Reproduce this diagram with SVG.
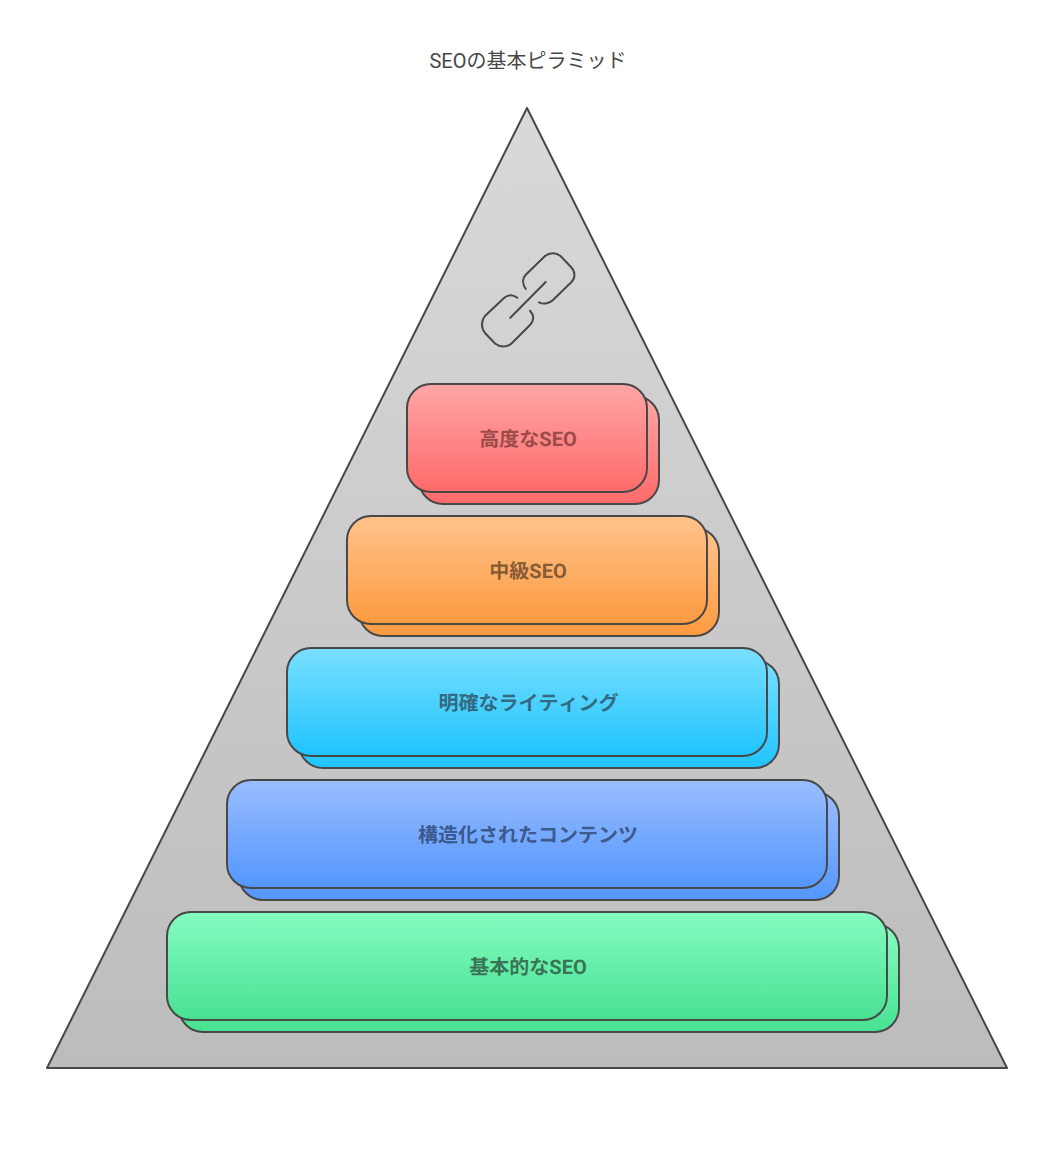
<svg xmlns="http://www.w3.org/2000/svg" width="1056" height="1153" viewBox="0 0 1056 1153">
<style>
text{font-family:Roboto,"Noto Sans CJK JP",sans-serif;text-anchor:middle}
.t{font-size:20px;fill:#484848}
.l{font-size:20px;font-weight:700;font-kerning:none;text-rendering:geometricPrecision}
.s{stroke:#484848;stroke-width:2;stroke-linejoin:round}
.i{fill:none;stroke:#484848;stroke-width:2;stroke-linecap:round}
</style>
<defs>
<linearGradient id="gt" x1="0" y1="0" x2="0" y2="1"><stop offset="0" stop-color="#d9d9d9"/><stop offset="1" stop-color="#bcbcbc"/></linearGradient>
<linearGradient id="g1" x1="0" y1="0" x2="0" y2="1"><stop offset="0" stop-color="#ffa6a6"/><stop offset="1" stop-color="#ff6a6a"/></linearGradient>
<linearGradient id="g2" x1="0" y1="0" x2="0" y2="1"><stop offset="0" stop-color="#ffc38c"/><stop offset="1" stop-color="#fd9a40"/></linearGradient>
<linearGradient id="g3" x1="0" y1="0" x2="0" y2="1"><stop offset="0" stop-color="#7adfff"/><stop offset="1" stop-color="#1fc4ff"/></linearGradient>
<linearGradient id="g4" x1="0" y1="0" x2="0" y2="1"><stop offset="0" stop-color="#99bdff"/><stop offset="1" stop-color="#5496ff"/></linearGradient>
<linearGradient id="g5" x1="0" y1="0" x2="0" y2="1"><stop offset="0" stop-color="#85fcc0"/><stop offset="1" stop-color="#48e192"/></linearGradient>
</defs>
<text class="t" x="528" y="67.5">SEOの基本ピラミッド</text>
<g id="pyramid"><polygon class="s" points="527,108 1007,1068 47,1068" fill="url(#gt)"/></g>
<g id="link-icon">
<path class="i" d="M525.7 289C523 285 521.5 279 526 274.5L545 256C549.5 252.5 556 252 560.5 256L571 267C575.5 271.5 575.5 278 571.5 282L553 300C549 304 543 304.5 539 302.3"/>
<path class="i" d="M517.3 297.7C513 294.5 508 294.5 504 298L485 316C481 321 481 328 485 333L495 343.5C500 347.5 507 347.5 511.5 343.5L530 325C534.5 320 534 315 530 310.7"/>
<path class="i" d="M510.3 317.7L545.7 282"/>
</g>
<g id="level-advanced">
<rect class="s" x="419" y="396" width="240" height="108" rx="24" fill="url(#g1)"/>
<rect class="s" x="407" y="384" width="240" height="108" rx="24" fill="url(#g1)"/>
<text class="l" x="528" y="445.5" fill="#9c4b4b">高度なSEO</text>
</g>
<g id="level-intermediate">
<rect class="s" x="359" y="528" width="360" height="108" rx="24" fill="url(#g2)"/>
<rect class="s" x="347" y="516" width="360" height="108" rx="24" fill="url(#g2)"/>
<text class="l" x="528" y="577.5" fill="#875c35">中級SEO</text>
</g>
<g id="level-writing">
<rect class="s" x="299" y="660" width="480" height="108" rx="24" fill="url(#g3)"/>
<rect class="s" x="287" y="648" width="480" height="108" rx="24" fill="url(#g3)"/>
<text class="l" x="528.6" y="709.5" fill="#336a82">明確なライティング</text>
</g>
<g id="level-structured">
<rect class="s" x="239" y="792" width="600" height="108" rx="24" fill="url(#g4)"/>
<rect class="s" x="227" y="780" width="600" height="108" rx="24" fill="url(#g4)"/>
<text class="l" x="528" y="841.5" fill="#3c5a8e">構造化されたコンテンツ</text>
</g>
<g id="level-basic">
<rect class="s" x="179" y="924" width="720" height="108" rx="24" fill="url(#g5)"/>
<rect class="s" x="167" y="912" width="720" height="108" rx="24" fill="url(#g5)"/>
<text class="l" x="528" y="973.5" fill="#397557">基本的なSEO</text>
</g>
</svg>
